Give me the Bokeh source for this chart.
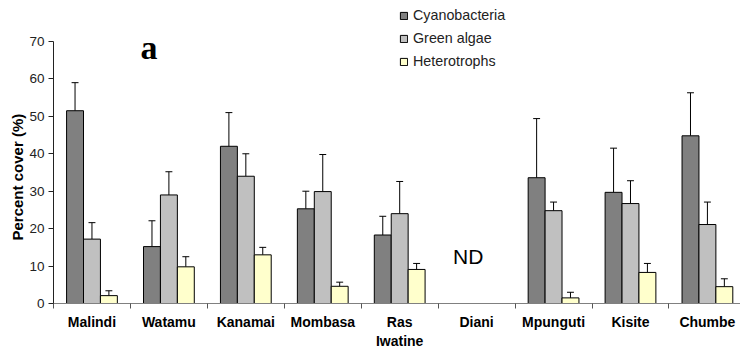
import math
from bokeh.plotting import figure
from bokeh.models import Range1d, FixedTicker, Label, Legend, LegendItem, ColumnDataSource, Title
from bokeh.embed import file_html
from bokeh.resources import INLINE

sites = ["Malindi", "Watamu", "Kanamai", "Mombasa", "Ras\nIwatine", "Diani", "Mpunguti", "Kisite", "Chumbe"]
cyano = [51.5, 15.2, 42.0, 25.3, 18.3, None, 33.6, 29.7, 44.8]
cyano_err = [7.5, 6.9, 9.0, 4.7, 5.0, None, 15.8, 11.8, 11.5]
green = [17.2, 29.0, 34.0, 29.9, 24.0, None, 24.8, 26.7, 21.1]
green_err = [4.4, 6.2, 6.0, 9.9, 8.6, None, 2.3, 6.1, 6.0]
hetero = [2.1, 9.8, 13.0, 4.6, 9.1, None, 1.5, 8.3, 4.5]
hetero_err = [1.3, 2.7, 2.0, 1.1, 1.6, None, 1.5, 2.4, 2.1]
series_names = ["Cyanobacteria", "Green algae", "Heterotrophs"]
colors = ["#808080", "#C0C0C0", "#FFFFCC"]
y_ticks = [0, 10, 20, 30, 40, 50, 60, 70]

FONT = "Liberation Sans"

p = figure(width=740, height=351, output_backend="svg", toolbar_location=None,
           x_range=Range1d(0, 8.93), y_range=Range1d(0, 80.95),
           min_border_left=53, min_border_right=0, min_border_top=0, min_border_bottom=48)
p.outline_line_color = None
p.grid.grid_line_color = None
p.background_fill_color = "white"
p.border_fill_color = "white"

offsets = [-0.22, 0.0, 0.22]
bw = 0.22
renderers = []
for s, (vals, errs, col, off) in enumerate(zip([cyano, green, hetero], [cyano_err, green_err, hetero_err], colors, offsets)):
    xs, tops, ebot, etop = [], [], [], []
    for i, (v, e) in enumerate(zip(vals, errs)):
        if v is None:
            continue
        xs.append(i + 0.5 + off)
        tops.append(v)
        ebot.append(v)
        etop.append(v + e)
    src = ColumnDataSource(dict(x=xs, top=tops, eb=ebot, et=etop,
                                cx0=[x - 0.045 for x in xs], cx1=[x + 0.045 for x in xs]))
    p.segment(x0="x", y0="eb", x1="x", y1="et", source=src, line_color="black", line_width=1)
    p.segment(x0="cx0", y0="et", x1="cx1", y1="et", source=src, line_color="black", line_width=1)
    r = p.vbar(x="x", top="top", width=bw, bottom=0, source=src, fill_color=col,
               line_color="black", line_width=1)
    renderers.append(r)

# x axis
xa = p.xaxis[0]
xa.ticker = FixedTicker(ticks=[i + 0.5 for i in range(len(sites))], minor_ticks=list(range(len(sites) + 1)))
xa.major_label_overrides = {i + 0.5: s for i, s in enumerate(sites)}
xa.major_tick_line_color = None
xa.minor_tick_line_color = "#555555"
xa.minor_tick_out = 5
xa.minor_tick_in = 0
xa.axis_line_color = "#808080"
xa.major_label_text_font = FONT
xa.major_label_text_font_style = "bold"
xa.major_label_text_font_size = "14px"
xa.major_label_text_color = "black"
xa.major_label_standoff = 4

ya = p.yaxis[0]
ya.ticker = FixedTicker(ticks=y_ticks)
ya.bounds = (0, 70)
ya.axis_line_color = "#222222"
ya.major_tick_line_color = "#222222"
ya.major_tick_out = 5
ya.major_tick_in = 0
ya.minor_tick_line_color = None
ya.major_label_text_font = FONT
ya.major_label_text_font_size = "13.5px"
ya.major_label_text_color = "#222222"
ya.major_label_standoff = 4

p.add_layout(Title(text="Percent cover (%)", align="left", offset=63, standoff=2,
                   text_font=FONT, text_font_style="bold", text_font_size="15px",
                   text_color="black"), "left")

p.add_layout(Label(x=1.13, y=68.4, text="a", text_font="Liberation Serif", text_font_style="bold",
                   text_font_size="34px", text_align="left", text_baseline="alphabetic", text_color="black"))
p.add_layout(Label(x=5.39, y=12.55, text="ND", text_font=FONT, text_font_size="21px",
                   text_align="center", text_baseline="alphabetic", text_color="black"))

legend = Legend(items=[LegendItem(label=n, renderers=[r]) for n, r in zip(series_names, renderers)],
                location=(346, 232), padding=0, margin=0, spacing=3,
                glyph_width=9, glyph_height=9, label_height=20, label_standoff=5,
                label_text_font=FONT, label_text_font_size="14.3px", label_text_color="#222222",
                border_line_color=None, background_fill_alpha=0)
p.add_layout(legend)

open("out.html", "w").write(file_html(p, INLINE))
